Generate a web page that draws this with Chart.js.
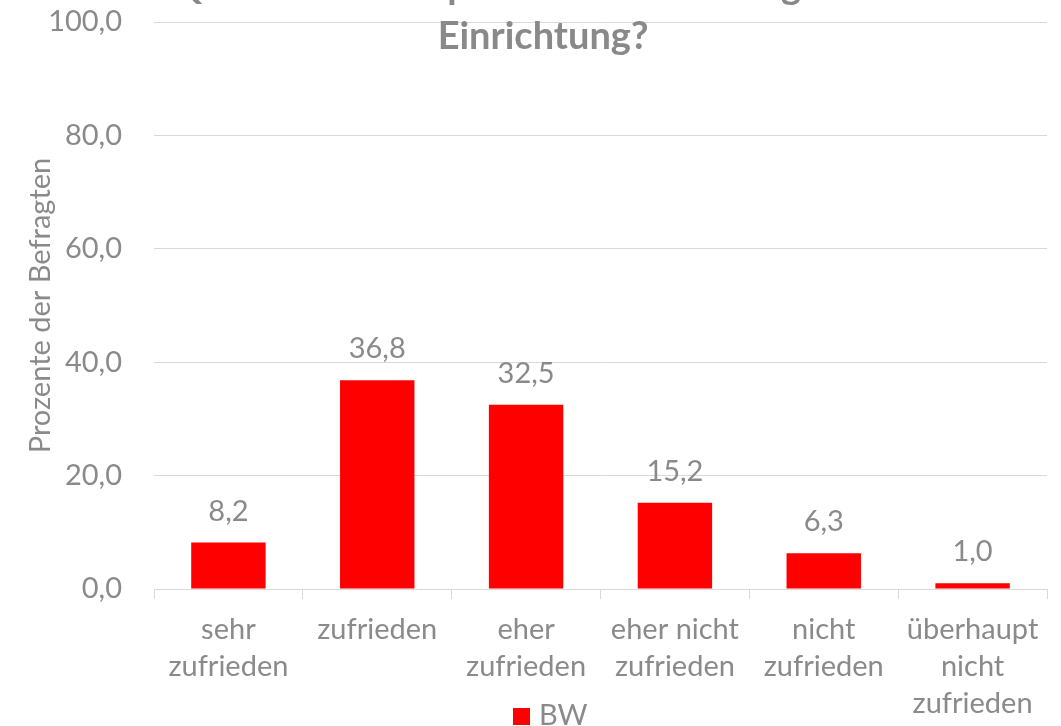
<!DOCTYPE html>
<html><head><meta charset="utf-8">
<script src="https://cdn.jsdelivr.net/npm/chart.js@4"></script>
<style>
html,body{margin:0;padding:0;background:#fff;overflow:hidden;}
#wrap{position:relative;width:1061px;height:726px;overflow:hidden;}
#title{position:absolute;left:0;top:-41px;width:1086px;text-align:center;font-family:Lato,sans-serif;font-weight:bold;font-size:38px;line-height:50px;color:#898989;pointer-events:none;white-space:nowrap;}
</style></head><body>
<div id="wrap"><canvas id="c" width="1061" height="726"></canvas>
<div id="title">Q5: Wie ist Ihre persönliche Meinung zu der<br>Einrichtung?</div></div>
<script>
const categories = [["sehr","zufrieden"],["zufrieden"],["eher","zufrieden"],["eher nicht","zufrieden"],["nicht","zufrieden"],["überhaupt","nicht","zufrieden"]];
const seriesLabel = "BW";
const bwValues = [8.2, 36.8, 32.5, 15.2, 6.3, 1.0];
const yAxisTitle = "Prozente der Befragten";
const yMin = 0, yMax = 100, yStep = 20;

const GRAY = '#8a8a8a';
const GRID = '#d9d9d9';
const RED = '#ff0000';
const FONT = 'Lato';
const FS = 29;
const FW = 400;
const fmt = v => v.toFixed(1).replace('.', ',');

const valueLabels = {
  id: 'valueLabels',
  afterDatasetsDraw(chart) {
    const ctx = chart.ctx;
    const meta = chart.getDatasetMeta(0);
    ctx.save();
    ctx.font = FW + ' ' + FS + 'px ' + FONT;
    ctx.fillStyle = GRAY;
    ctx.textAlign = 'center';
    ctx.textBaseline = 'alphabetic';
    meta.data.forEach((bar, i) => {
      ctx.fillText(fmt(chart.data.datasets[0].data[i]), bar.x, bar.y - 22);
    });
    ctx.restore();
  }
};

const customLegend = {
  id: 'customLegend',
  afterDraw(chart) {
    const ctx = chart.ctx;
    const ds = chart.data.datasets[0];
    ctx.save();
    ctx.fillStyle = ds.backgroundColor;
    ctx.fillRect(513, 708, 17, 17);
    ctx.font = FW + ' ' + FS + 'px ' + FONT;
    ctx.fillStyle = GRAY;
    ctx.textAlign = 'left';
    ctx.textBaseline = 'middle';
    ctx.fillText(ds.label, 539, 716);
    ctx.restore();
  }
};

new Chart(document.getElementById('c'), {
  type: 'bar',
  data: {
    labels: categories,
    datasets: [{
      label: seriesLabel,
      data: bwValues,
      backgroundColor: RED,
      borderWidth: 0,
      barPercentage: 0.5,
      categoryPercentage: 1.0
    }]
  },
  options: {
    responsive: false,
    animation: false,
    devicePixelRatio: 1,
    layout: { padding: { top: 22, right: 14, left: 0, bottom: 0 } },
    plugins: {
      legend: { display: false },
      title: { display: false },
      tooltip: { enabled: false }
    },
    scales: {
      x: {
        offset: true,
        grid: { display: true, drawOnChartArea: false, drawTicks: true, tickLength: 10, color: GRID, offset: true },
        border: { display: true, color: GRID, width: 1 },
        ticks: { color: GRAY, font: { family: FONT, size: FS, weight: FW, lineHeight: 1.276 }, padding: 12, maxRotation: 0, autoSkip: false },
        afterFit(scale) { scale.height = 137; scale.paddingLeft = 0; scale.paddingRight = 0; }
      },
      y: {
        min: yMin, max: yMax,
        grid: { color: GRID, drawTicks: false, lineWidth: 1 },
        border: { display: false },
        ticks: { stepSize: yStep, color: GRAY, font: { family: FONT, size: FS, weight: FW }, padding: 32, callback: v => fmt(v) },
        title: { display: true, text: yAxisTitle, color: GRAY, font: { family: FONT, size: 29, weight: FW }, padding: { top: 23, bottom: 0 } },
        afterFit(scale) { scale.width = 154; scale.paddingTop = 0; scale.paddingBottom = 0; }
      }
    }
  },
  plugins: [valueLabels, customLegend]
});
</script>
</body></html>
